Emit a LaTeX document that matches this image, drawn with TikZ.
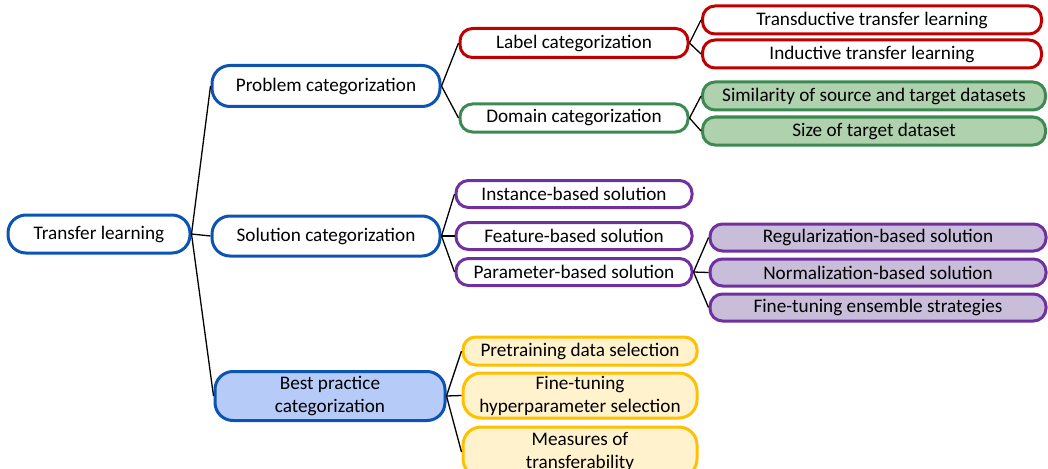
\documentclass[tikz,border=0pt]{standalone}
\usepackage{fontspec}
\setmainfont{Carlito}
\definecolor{bluebd}{RGB}{12,84,180}
\definecolor{bluefl}{RGB}{183,203,248}
\definecolor{redbd}{RGB}{192,0,0}
\definecolor{greenbd}{RGB}{60,138,82}
\definecolor{greenfl}{RGB}{176,209,174}
\definecolor{purplebd}{RGB}{112,48,160}
\definecolor{purplefl}{RGB}{200,190,217}
\definecolor{yellowbd}{RGB}{255,192,0}
\definecolor{yellowfl}{RGB}{255,242,204}
\begin{document}
\begin{tikzpicture}[x=1pt,y=-1pt,
		box/.style={draw, line width=3pt, rounded corners=12.5pt, fill=white,
			inner sep=0pt, align=center, font=\fontsize{19.2}{23}\selectfont},
		bigbox/.style={rounded corners=18pt},
		link/.style={draw, line width=1.3pt},
		bluebox/.style={box, bigbox, draw=bluebd},
		redbox/.style={box, draw=redbd},
		greenbox/.style={box, draw=greenbd},
		purplebox/.style={box, draw=purplebd},
		yellowbox/.style={box, draw=yellowbd, fill=yellowfl}]
	\useasboundingbox (0,0) rectangle (1048,468);
	% Racine
	\node[bluebox, minimum width=182pt, minimum height=38pt] (root) at (99,234) {Transfer learning};
	% Niveau 1
	\node[bluebox, minimum width=228pt, minimum height=41pt] (prob) at (326,86) {Problem categorization};
	\node[bluebox, minimum width=228pt, minimum height=40pt] (sol) at (326,236) {Solution categorization};
	\node[bluebox, fill=bluefl, minimum width=230pt, minimum height=49pt] (best) at (330,396) {Best practice\\categorization};
	% Problem
	\node[redbox, minimum width=228pt, minimum height=29pt] (lab) at (574,43) {Label categorization};
	\node[greenbox, minimum width=228pt, minimum height=28pt] (dom) at (574,118) {Domain categorization};
	\node[redbox, minimum width=339pt, minimum height=28pt] (trans) at (872,20) {Transductive transfer learning};
	\node[redbox, minimum width=339pt, minimum height=28pt] (induc) at (872,54) {Inductive transfer learning};
	\node[greenbox, fill=greenfl, minimum width=343pt, minimum height=28pt] (simil) at (874,96) {Similarity of source and target datasets};
	\node[greenbox, fill=greenfl, minimum width=343pt, minimum height=28pt] (size) at (874,131) {Size of target dataset};
	% Solution
	\node[purplebox, minimum width=236pt, minimum height=27pt] (inst) at (574,194) {Instance-based solution};
	\node[purplebox, minimum width=236pt, minimum height=27pt] (feat) at (574,236) {Feature-based solution};
	\node[purplebox, minimum width=236pt, minimum height=27pt] (param) at (574,272) {Parameter-based solution};
	\node[purplebox, fill=purplefl, minimum width=336pt, minimum height=27pt] (regul) at (878,237.5) {Regularization-based solution};
	\node[purplebox, fill=purplefl, minimum width=336pt, minimum height=27pt] (norm) at (878,272.5) {Normalization-based solution};
	\node[purplebox, fill=purplefl, minimum width=336pt, minimum height=27pt] (ens) at (878,307.5) {Fine-tuning ensemble strategies};
	% Best practice
	\node[yellowbox, minimum width=234pt, minimum height=28pt] (pre) at (580,351) {Pretraining data selection};
	\node[yellowbox, bigbox, minimum width=234pt, minimum height=45pt] (hyper) at (580,395.5) {Fine-tuning\\hyperparameter selection};
	\node[yellowbox, bigbox, minimum width=234pt, minimum height=50pt] (meas) at (580,452) {Measures of\\transferability};
	% Liens
	\foreach \a/\b in {root/prob, root/sol, root/best, prob/lab, prob/dom,
		lab/trans, lab/induc, dom/simil, dom/size, sol/inst, sol/feat, sol/param,
		param/regul, param/norm, param/ens, best/pre, best/hyper, best/meas}
		\draw[link] (\a.east) -- (\b.west);
\end{tikzpicture}
\end{document}
